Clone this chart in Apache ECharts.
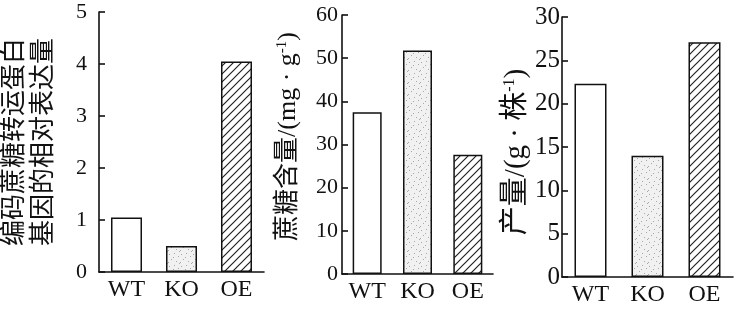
<!DOCTYPE html>
<html>
<head>
<meta charset="utf-8">
<script src="https://cdn.jsdelivr.net/npm/echarts@6/dist/echarts.min.js"></script>
<style>
html,body{margin:0;padding:0;background:#fff;}
#chart{width:741px;height:318px;}
</style>
</head>
<body>
<div id="chart"></div>
<script>
// ---- data ----
const categories = ['WT', 'KO', 'OE'];
const expressionValues = [1.05, 0.5, 4.05];   // 编码蔗糖转运蛋白基因的相对表达量
const sucroseValues = [37.5, 51.8, 27.6];      // 蔗糖含量 mg·g-1
const yieldValues = [22.3, 14.0, 27.1];        // 产量 g·株-1
const expressionAxis = { min: 0, max: 5, interval: 1 };
const sucroseAxis = { min: 0, max: 60, interval: 10 };
const yieldAxis = { min: 0, max: 30, interval: 5 };

// ---- fill patterns ----
function hatchPattern() {
  const s = 8;
  const c = document.createElement('canvas');
  c.width = s; c.height = s;
  const g = c.getContext('2d');
  g.fillStyle = '#fff'; g.fillRect(0, 0, s, s);
  g.strokeStyle = '#222'; g.lineWidth = 1.2;
  g.beginPath();
  g.moveTo(-1, s + 1); g.lineTo(s + 1, -1);
  g.moveTo(-1, 1); g.lineTo(1, -1);
  g.moveTo(s - 1, s + 1); g.lineTo(s + 1, s - 1);
  g.stroke();
  return c;
}
function stipplePattern() {
  const s = 12;
  const c = document.createElement('canvas');
  c.width = s; c.height = s;
  const g = c.getContext('2d');
  g.fillStyle = '#f1f1f1'; g.fillRect(0, 0, s, s);
  g.fillStyle = '#a8a8a8';
  const dots = [[1,2],[6,1],[10,4],[3,7],[8,9],[0,10],[5,5],[11,11]];
  dots.forEach(d => g.fillRect(d[0], d[1], 1, 1));
  return c;
}
const fills = ['#ffffff', { image: stipplePattern(), repeat: 'repeat' }, { image: hatchPattern(), repeat: 'repeat' }];

const serif = "'Liberation Serif', 'Times New Roman', 'Noto Sans CJK SC', serif";
const ink = '#111';
const lineStyle = { color: ink, width: 1.6 };

function styled(values) {
  return values.map((v, i) => ({
    value: v,
    itemStyle: { color: fills[i], borderColor: ink, borderWidth: 1.5 }
  }));
}

function xAxisFor(gi) {
  return {
    type: 'category', gridIndex: gi, data: categories,
    axisLine: { lineStyle: lineStyle },
    axisTick: { show: false },
    axisLabel: { color: ink, fontFamily: serif, fontSize: 24, margin: 6 }
  };
}
function yAxisFor(gi, sc, name, gap, fontSize, labelMargin, nameSize, padding, rich) {
  return {
    type: 'value', gridIndex: gi, min: sc.min, max: sc.max, interval: sc.interval,
    name: name, nameLocation: 'middle', nameRotate: 90, nameGap: gap,
    nameTextStyle: {
      color: ink, fontFamily: serif, fontSize: nameSize, lineHeight: 29,
      padding: padding, rich: rich
    },
    axisLine: { show: true, lineStyle: lineStyle },
    axisTick: { show: true, inside: true, length: 6, lineStyle: lineStyle },
    splitLine: { show: false },
    axisLabel: { color: ink, fontFamily: serif, fontSize: fontSize, margin: labelMargin }
  };
}
function supRich(size, supSize, lift) {
  return {
    t: { fontFamily: serif, fontSize: size, color: ink },
    sup: { fontFamily: serif, fontSize: supSize, color: ink, padding: [0, 0, lift, 0] }
  };
}

const chart = echarts.init(document.getElementById('chart'), null, { renderer: 'canvas' });
chart.setOption({
  backgroundColor: '#fff',
  animation: false,
  grid: [
    { left: 98, top: 12, width: 166, height: 260 },
    { left: 342, top: 15, width: 151, height: 259 },
    { left: 562, top: 17, width: 171, height: 260 }
  ],
  xAxis: [xAxisFor(0), xAxisFor(1), xAxisFor(2)],
  yAxis: [
    yAxisFor(0, expressionAxis, '编码蔗糖转运蛋白\n基因的相对表达量', 40, 22, 12, 26, [0, 0, 0, 0], null),
    yAxisFor(1, sucroseAxis, '{t|蔗糖含量/(mg · g}{sup|-1}{t|)}', 39, 22, 4, 26, [0, 0, 0, 16], supRich(26, 15, 12)),
    yAxisFor(2, yieldAxis, '{t|产量/(g · 株}{sup|-1}{t|)}', 28, 25, 2, 29, [0, 10, 0, 0], supRich(29, 16, 13))
  ],
  series: [
    { type: 'bar', xAxisIndex: 0, yAxisIndex: 0, barWidth: 31, data: styled(expressionValues) },
    { type: 'bar', xAxisIndex: 1, yAxisIndex: 1, barWidth: 29, data: styled(sucroseValues) },
    { type: 'bar', xAxisIndex: 2, yAxisIndex: 2, barWidth: 32, data: styled(yieldValues) }
  ]
});
</script>
</body>
</html>
